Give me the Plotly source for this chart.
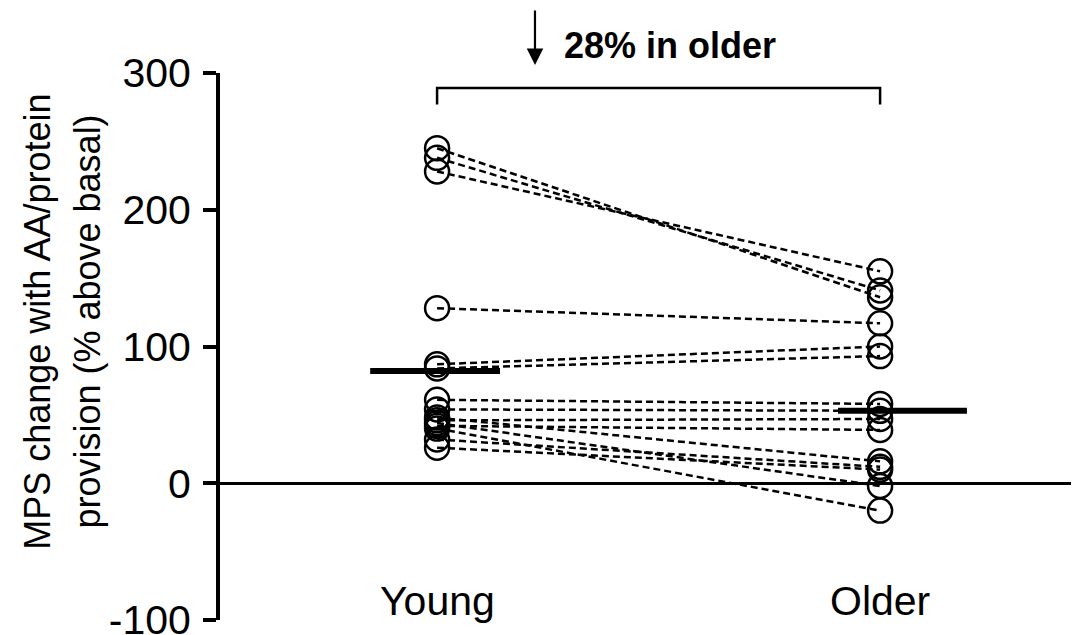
import plotly.graph_objects as go

categories = ["Young", "Older"]
young_vals = [245, 238, 228, 128, 87, 84, 61, 54, 48, 46, 44, 42, 40, 32, 26]
older_vals = [136, 141, 155, 117, 100, 93, 58, 53, 16, 47, -2, 39, -20, 12, 10]
group_means = [82, 53]
y_ticks = [-100, 0, 100, 200, 300]
y_tick_text = ["-100", "0", "100", "200", "300"]
annot_text = "28% in older"
y_title_lines = ["MPS change with AA/protein", "provision (% above basal)"]

FONT = "Liberation Sans, Arial, sans-serif"

fig = go.Figure()

# paired dashed lines
for yv, ov in zip(young_vals, older_vals):
    fig.add_trace(go.Scatter(
        x=[0, 1], y=[yv, ov], mode="lines",
        line=dict(color="black", width=2.5, dash="7px,4px"),
        showlegend=False, hoverinfo="skip"))

# open circles
fig.add_trace(go.Scatter(
    x=[0] * len(young_vals) + [1] * len(older_vals),
    y=young_vals + older_vals, mode="markers",
    marker=dict(symbol="circle-open", size=24, color="black",
                line=dict(width=2.5, color="black")),
    showlegend=False, hoverinfo="skip"))

# mean bars
mean_spans = [(-0.151, 0.142), (-0.095, 0.196)]
for i, ((x0, x1), m) in enumerate(zip(mean_spans, group_means)):
    fig.add_trace(go.Scatter(
        x=[i + x0, i + x1], y=[m, m], mode="lines",
        line=dict(color="black", width=6),
        showlegend=False, hoverinfo="skip"))

# bracket
fig.add_trace(go.Scatter(
    x=[0, 0, 1, 1], y=[277, 289, 289, 277], mode="lines",
    line=dict(color="black", width=2.5),
    showlegend=False, hoverinfo="skip", cliponaxis=False))

# arrow (above plot area)
fig.add_annotation(x=0.221, xref="x", y=1.0146, yref="paper",
                   ax=0, ay=-56, showarrow=True, arrowhead=2,
                   arrowsize=1.5, arrowwidth=2.2, arrowcolor="black", text="")
fig.add_annotation(x=0.526, xref="x", y=1.051, yref="paper",
                   xanchor="center", yanchor="middle",
                   text="<b>" + annot_text + "</b>", showarrow=False,
                   font=dict(family=FONT, size=36, color="black"))

# category labels
for i, c in enumerate(categories):
    fig.add_annotation(x=i, y=-86, xref="x", yref="y", text=c, showarrow=False,
                       xanchor="center", yanchor="middle",
                       font=dict(family=FONT, size=41, color="black"))

# y title (two rotated lines)
for xp, line in zip([-0.212, -0.154], y_title_lines):
    fig.add_annotation(x=xp, xref="paper", y=0.545, yref="paper", text=line,
                       textangle=-90, showarrow=False,
                       xanchor="center", yanchor="middle",
                       font=dict(family=FONT, size=36, color="black"))

fig.update_layout(
    width=1071, height=627,
    margin=dict(l=212, r=0, t=65, b=15),
    paper_bgcolor="white", plot_bgcolor="white",
    font=dict(family=FONT, color="black"),
    xaxis=dict(range=[-0.49, 1.449], showgrid=False, zeroline=False,
               showticklabels=False, ticks="", showline=False, automargin=False),
    yaxis=dict(range=[-100, 300], tickvals=y_ticks, ticktext=y_tick_text,
               showgrid=False, automargin=False,
               zeroline=True, zerolinecolor="black", zerolinewidth=3,
               showline=True, linecolor="black", linewidth=4,
               ticks="outside", ticklen=13, tickwidth=4, tickcolor="black",
               ticklabeloverflow="allow", ticklabelstandoff=4,
               tickfont=dict(size=41, family=FONT)),
)

fig.write_html("out.html")
